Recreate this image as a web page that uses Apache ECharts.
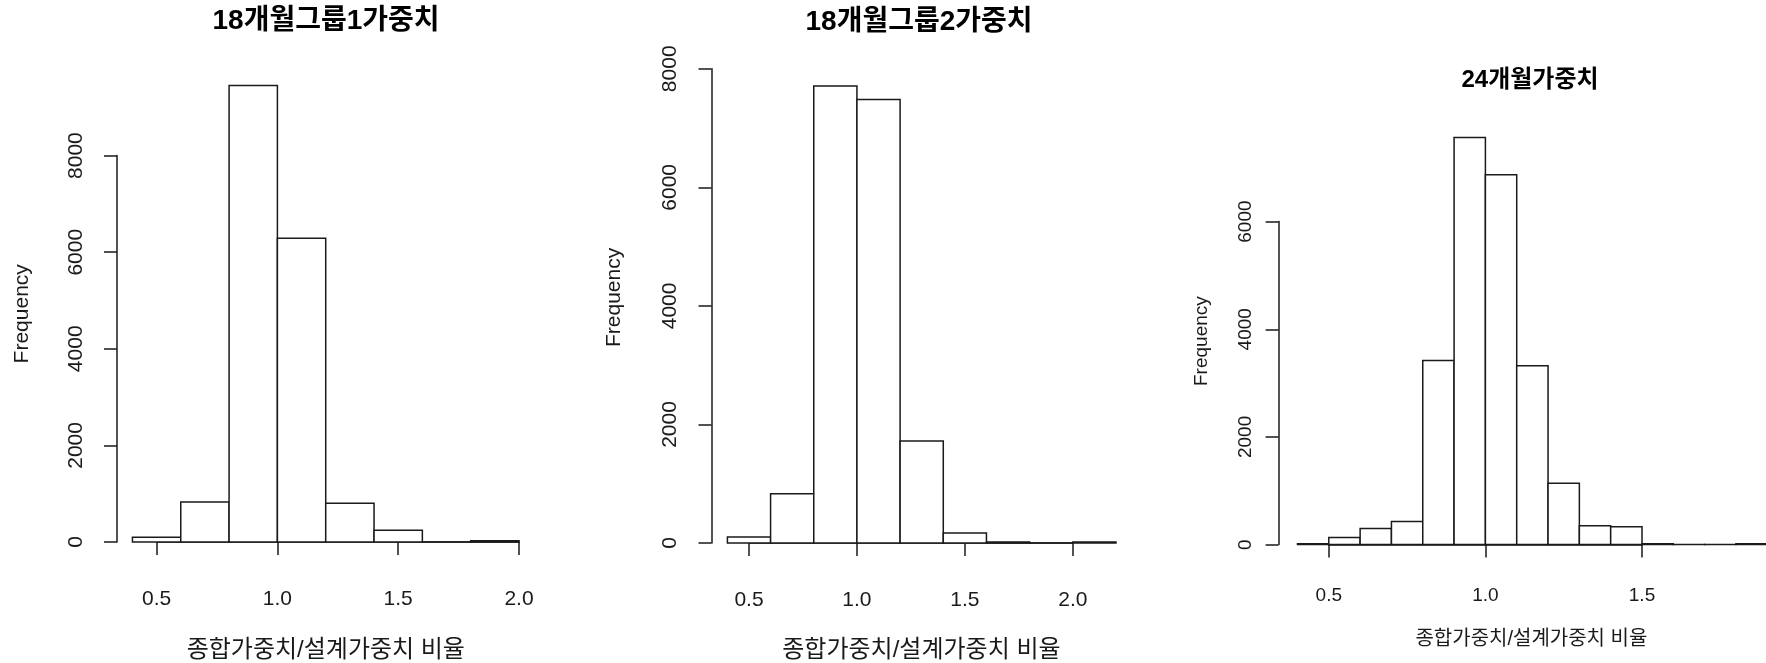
<!DOCTYPE html>
<html><head><meta charset="utf-8">
<script src="https://cdn.jsdelivr.net/npm/echarts@6/dist/echarts.min.js"></script>
<style>html,body{margin:0;padding:0;background:#fff}#c{width:1766px;height:663px}</style>
</head><body><div id="c"></div>
<script>
// ---- data ----
const titles = ['18개월그룹1가중치', '18개월그룹2가중치', '24개월가중치'];
const xName = '종합가중치/설계가중치 비율';
const yName = 'Frequency';

const edges1 = [0.4, 0.6, 0.8, 1.0, 1.2, 1.4, 1.6, 1.8, 2.0];
const counts1 = [100, 830, 9450, 6290, 800, 245, 0, 25];
const xTicks1 = [0.5, 1.0, 1.5, 2.0];
const yTicks1 = [0, 2000, 4000, 6000, 8000];

const edges2 = [0.4, 0.6, 0.8, 1.0, 1.2, 1.4, 1.6, 1.8, 2.0, 2.2];
const counts2 = [100, 830, 7710, 7480, 1720, 170, 15, 0, 15];
const xTicks2 = [0.5, 1.0, 1.5, 2.0];
const yTicks2 = [0, 2000, 4000, 6000, 8000];

const edges3 = [0.4, 0.5, 0.6, 0.7, 0.8, 0.9, 1.0, 1.1, 1.2, 1.3, 1.4, 1.5, 1.6, 1.7, 1.8, 1.9];
const counts3 = [15, 130, 300, 430, 3420, 7560, 6870, 3320, 1140, 350, 330, 15, 0, 0, 15];
const xTicks3 = [0.5, 1.0, 1.5];
const yTicks3 = [0, 2000, 4000, 6000];

// ---- layout ----
const LATIN = "'Liberation Sans', Arial, 'Noto Sans CJK KR', sans-serif";
const INK = '#1a1a1a';
const panels = [
  { edges: edges1, counts: counts1, xt: xTicks1, yt: yTicks1,
    grid: { left: 156.6, top: 155.6, width: 362.4, height: 386.4 },
    yOff: 39.6, xOff: 19, tick: 21, name: 21, xname: 24, title: 28,
    titleX: 326, titleY: 7, yMargin: 30, xMargin: 28, yGap: 84, xGap: 77,
    yPad: [0, 0, 0, 70], xPad: [0, 24, 0, 0] },
  { edges: edges2, counts: counts2, xt: xTicks2, yt: yTicks2,
    grid: { left: 749, top: 68.8, width: 323.8, height: 474.2 },
    yOff: 37.5, xOff: 18, tick: 21, name: 21, xname: 24, title: 28,
    titleX: 919, titleY: 8, yMargin: 31, xMargin: 29, yGap: 87, xGap: 77,
    yPad: [0, 0, 0, 17], xPad: [0, 0, 0, 21] },
  { edges: edges3, counts: counts3, xt: xTicks3, yt: yTicks3,
    grid: { left: 1328.8, top: 221.6, width: 313.2, height: 323 },
    yOff: 50.2, xOff: 16.4, tick: 19, name: 19, xname: 20, title: 24,
    titleX: 1530, titleY: 68, yMargin: 23, xMargin: 25, yGap: 67, xGap: 68,
    yPad: [0, 0, 0, 84], xPad: [0, 0, 0, 92] }
];

const option = {
  backgroundColor: '#ffffff',
  animation: false,
  title: [], grid: [], xAxis: [], yAxis: [], series: []
};

panels.forEach((p, i) => {
  option.title.push({
    text: titles[i], left: p.titleX, top: p.titleY, textAlign: 'center', padding: 0,
    textStyle: { fontFamily: LATIN, fontWeight: 'bold', fontSize: p.title, color: '#000' }
  });
  option.grid.push(Object.assign({ outerBoundsMode: 'none', containLabel: false }, p.grid));
  const axisLine = { show: true, lineStyle: { color: INK, width: 1.5 } };
  const axisTick = { show: true, length: 13, lineStyle: { color: INK, width: 1.5 } };
  option.xAxis.push({
    type: 'value', gridIndex: i, position: 'bottom', offset: p.xOff,
    min: p.xt[0], max: p.xt[p.xt.length - 1], interval: 0.5,
    splitLine: { show: false }, axisLine, axisTick,
    axisLabel: { fontFamily: LATIN, fontSize: p.tick, color: INK, margin: p.xMargin,
      formatter: v => v.toFixed(1), showMinLabel: true, showMaxLabel: true },
    name: xName, nameLocation: 'middle', nameGap: p.xGap,
    nameTextStyle: { fontFamily: LATIN, fontSize: p.xname, color: INK, padding: p.xPad }
  });
  option.yAxis.push({
    type: 'value', gridIndex: i, position: 'left', offset: p.yOff,
    min: p.yt[0], max: p.yt[p.yt.length - 1], interval: 2000,
    splitLine: { show: false }, axisLine, axisTick,
    axisLabel: { fontFamily: LATIN, fontSize: p.tick, color: INK, margin: p.yMargin, rotate: 90,
      formatter: v => String(v), showMinLabel: true, showMaxLabel: true },
    name: yName, nameLocation: 'middle', nameGap: p.yGap, nameRotate: 90,
    nameTextStyle: { fontFamily: LATIN, fontSize: p.name, color: INK, padding: p.yPad }
  });
  const data = p.counts.map((c, k) => [p.edges[k], p.edges[k + 1], c]);
  option.series.push({
    type: 'custom', xAxisIndex: i, yAxisIndex: i, clip: false,
    encode: { x: [0, 1], y: 2 },
    data,
    renderItem: (params, api) => {
      const a = api.coord([api.value(0), api.value(2)]);
      const b = api.coord([api.value(1), 0]);
      return {
        type: 'rect',
        shape: { x: a[0], y: a[1], width: b[0] - a[0], height: Math.max(b[1] - a[1], 0.01) },
        style: { fill: '#ffffff', stroke: INK, lineWidth: 1.5 }
      };
    }
  });
});

const chart = echarts.init(document.getElementById('c'), null, { renderer: 'canvas' });
chart.setOption(option);
</script>
</body></html>
